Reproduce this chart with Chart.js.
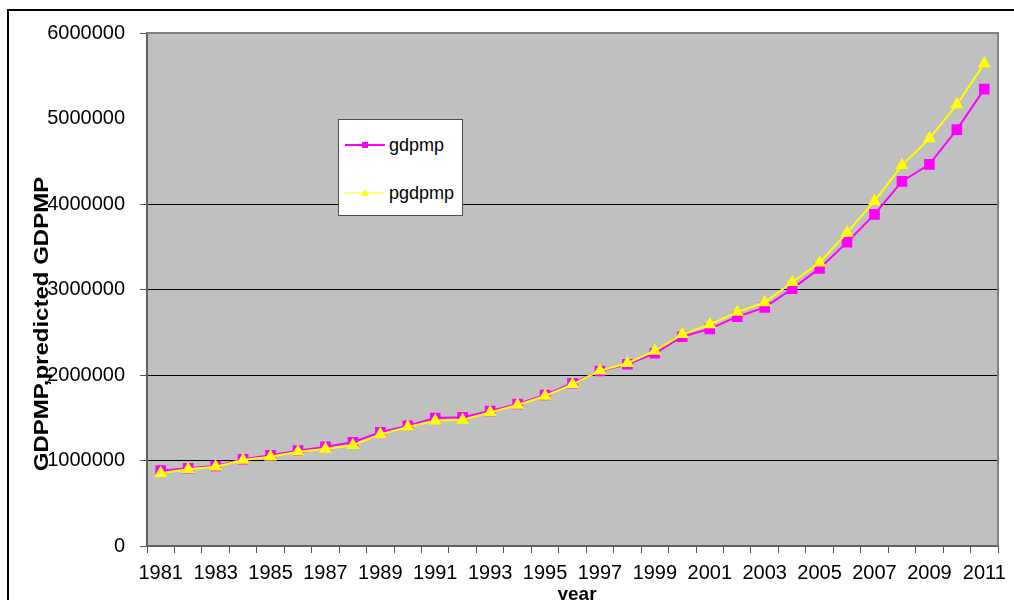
<!DOCTYPE html>
<html>
<head>
<meta charset="utf-8">
<script src="https://cdn.jsdelivr.net/npm/chart.js@4.4.1/dist/chart.umd.min.js"></script>
<style>
  html, body { margin: 0; padding: 0; background: #ffffff; }
  #wrap { position: relative; width: 1014px; height: 600px; overflow: hidden; }
  #c { position: absolute; left: 0; top: 0; }
  #legend {
    position: absolute; left: 338px; top: 119px; width: 123px; height: 95px;
    background: #ffffff; border: 1px solid #505050;
    font-family: "Liberation Sans", Arial, sans-serif; font-size: 18px; color: #000;
  }
  .item { position: absolute; left: 6px; height: 20px; display: flex; align-items: center; }
  .item span { margin-left: 4px; }
</style>
</head>
<body>
<div id="wrap">
  <canvas id="c" width="1014" height="600"></canvas>
  <div id="legend"></div>
</div>
<script>
const years = ['1981','1982','1983','1984','1985','1986','1987','1988','1989','1990',
  '1991','1992','1993','1994','1995','1996','1997','1998','1999','2000',
  '2001','2002','2003','2004','2005','2006','2007','2008','2009','2010','2011'];

const gdpmp = [881000, 909000, 936000, 1014000, 1061000, 1115000, 1161000, 1213000, 1330000, 1407000,
  1497000, 1505000, 1579000, 1661000, 1766000, 1903000, 2047000, 2125000, 2254000, 2448000,
  2540000, 2682000, 2791000, 3008000, 3247000, 3552000, 3879000, 4264000, 4464000, 4870000, 5343000];

const pgdpmp = [850000, 897000, 928000, 1006000, 1045000, 1103000, 1135000, 1178000, 1306000, 1392000,
  1464000, 1474000, 1563000, 1649000, 1754000, 1891000, 2050000, 2137000, 2281000, 2476000,
  2590000, 2736000, 2849000, 3084000, 3314000, 3665000, 4033000, 4452000, 4766000, 5163000, 5644000];

const seriesNames = ['gdpmp', 'pgdpmp'];
const yAxisTitle = 'GDPMP,predicted GDPMP';
const xAxisTitle = 'year';

const FONT = '"Liberation Sans", Arial, sans-serif';

const decor = {
  id: 'decor',
  beforeDraw(chart) {
    const ctx = chart.ctx, a = chart.chartArea;
    ctx.save();
    ctx.fillStyle = '#ffffff';
    ctx.fillRect(0, 0, chart.width, chart.height);
    ctx.fillStyle = '#000000';
    ctx.fillRect(8, 9, chart.width - 8, 2);
    ctx.fillRect(7, 9, 2, chart.height - 9);
    ctx.fillStyle = '#C0C0C0';
    ctx.fillRect(a.left, a.top, a.right - a.left, a.bottom - a.top);
    ctx.restore();
  },
  beforeDatasetsDraw(chart) {
    const ctx = chart.ctx, a = chart.chartArea;
    ctx.save();
    ctx.strokeStyle = '#808080';
    ctx.lineWidth = 2;
    ctx.beginPath();
    ctx.moveTo(a.left, a.top);
    ctx.lineTo(a.right, a.top);
    ctx.lineTo(a.right, a.bottom);
    ctx.stroke();
    ctx.restore();
  },
  afterDraw(chart) {
    const ctx = chart.ctx;
    ctx.save();
    ctx.fillStyle = '#000000';
    ctx.translate(42, 324);
    ctx.rotate(-Math.PI / 2);
    ctx.scale(1.2, 1);
    ctx.font = 'bold 20px ' + FONT;
    ctx.textAlign = 'center';
    ctx.textBaseline = 'middle';
    ctx.fillText(yAxisTitle, 0, 0);
    ctx.restore();
    ctx.save();
    ctx.fillStyle = '#000000';
    ctx.font = 'bold 19px ' + FONT;
    ctx.textAlign = 'center';
    ctx.textBaseline = 'middle';
    ctx.fillText(xAxisTitle, 577, 595);
    ctx.restore();
  }
};

const chart = new Chart(document.getElementById('c'), {
  type: 'line',
  data: {
    labels: years,
    datasets: [
      {
        label: seriesNames[0], data: gdpmp, order: 1,
        borderColor: '#FF00FF', backgroundColor: '#FF00FF', borderWidth: 2,
        pointStyle: 'rect', pointRadius: 7.5, pointHoverRadius: 7.5,
        pointBackgroundColor: '#FF00FF', pointBorderColor: '#FF00FF', pointBorderWidth: 0,
        tension: 0, fill: false
      },
      {
        label: seriesNames[1], data: pgdpmp, order: 0,
        borderColor: '#FFFF00', backgroundColor: '#FFFF00', borderWidth: 2,
        pointStyle: 'triangle', pointRadius: 7.5, pointHoverRadius: 7.5,
        pointBackgroundColor: '#FFFF00', pointBorderColor: '#FFFF00', pointBorderWidth: 0,
        tension: 0, fill: false
      }
    ]
  },
  options: {
    responsive: false,
    animation: false,
    devicePixelRatio: 1,
    layout: { padding: { left: 0, top: 33, right: 12, bottom: 0 } },
    plugins: { legend: { display: false }, tooltip: { enabled: false }, title: { display: false } },
    scales: {
      x: {
        type: 'category',
        offset: true,
        afterFit(s) { s.height = 54; },
        grid: {
          offset: true, drawOnChartArea: false, tickLength: 7,
          tickColor: '#555555', tickWidth: 1
        },
        border: { color: '#606060', width: 2 },
        ticks: {
          autoSkip: false, maxRotation: 0, minRotation: 0, padding: 8,
          color: '#000000', font: { family: FONT, size: 20 },
          callback(value, index) { return index % 2 === 0 ? years[index] : ''; }
        }
      },
      y: {
        min: 0, max: 6000000,
        afterFit(s) { s.width = 147; },
        grid: {
          tickLength: 7, lineWidth: 1, tickWidth: 1,
          color(c) { const v = c.tick && c.tick.value; return (v >= 1000000 && v <= 4000000) ? '#000000' : 'rgba(0,0,0,0)'; },
          tickColor(c) { const v = c.tick && c.tick.value; return v === 5000000 ? 'rgba(0,0,0,0)' : '#555555'; }
        },
        border: { color: '#606060', width: 2 },
        ticks: {
          stepSize: 1000000, padding: 15, color: '#000000',
          font: { family: FONT, size: 20 },
          callback(value) { return String(value); }
        }
      }
    }
  },
  plugins: [decor]
});

(function buildLegend() {
  const box = document.getElementById('legend');
  const tops = [15, 63];
  chart.data.datasets.forEach((ds, i) => {
    const it = document.createElement('div');
    it.className = 'item';
    it.style.top = tops[i] + 'px';
    const svgNS = 'http://www.w3.org/2000/svg';
    const svg = document.createElementNS(svgNS, 'svg');
    svg.setAttribute('width', '40'); svg.setAttribute('height', '20');
    const ln = document.createElementNS(svgNS, 'line');
    ln.setAttribute('x1', '0'); ln.setAttribute('x2', '40');
    ln.setAttribute('y1', '10'); ln.setAttribute('y2', '10');
    ln.setAttribute('stroke', ds.borderColor);
    ln.setAttribute('stroke-width', i === 0 ? '2' : '1');
    svg.appendChild(ln);
    let mk;
    if (ds.pointStyle === 'rect') {
      mk = document.createElementNS(svgNS, 'rect');
      mk.setAttribute('x', '17'); mk.setAttribute('y', '7');
      mk.setAttribute('width', '6'); mk.setAttribute('height', '6');
    } else {
      mk = document.createElementNS(svgNS, 'polygon');
      mk.setAttribute('points', '20,6 24,13 16,13');
    }
    mk.setAttribute('fill', ds.backgroundColor);
    svg.appendChild(mk);
    it.appendChild(svg);
    const sp = document.createElement('span');
    sp.textContent = ds.label;
    it.appendChild(sp);
    box.appendChild(it);
  });
})();
</script>
</body>
</html>
